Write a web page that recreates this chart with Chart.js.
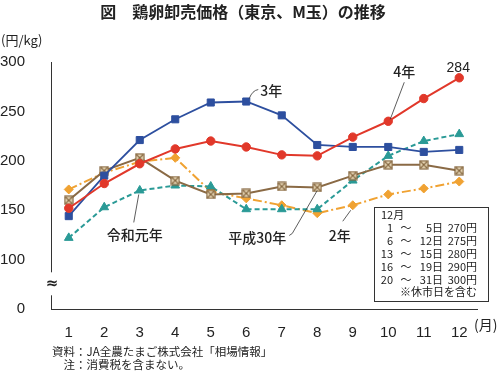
<!DOCTYPE html>
<html>
<head>
<meta charset="utf-8">
<script src="https://cdn.jsdelivr.net/npm/chart.js@4"></script>
<style>
  html, body { margin: 0; padding: 0; background: #fff; }
</style>
</head>
<body>
<canvas id="chart" width="500" height="372"></canvas>
<script>
// egg wholesale price, Tokyo M size (yen/kg), by month
const months = ['1', '2', '3', '4', '5', '6', '7', '8', '9', '10', '11', '12']
const r3  = [144, 185, 221, 242, 259, 260, 246, 216, 214, 214, 209, 211]   // 3年
const r4  = [152, 177, 197, 212, 220, 214, 206, 205, 224, 240, 263, 284]   // 4年
const h30 = [160, 190, 203, 180, 166, 167, 174, 173, 185, 196, 196, 190]   // 平成30年
const r1  = [122, 153, 170, 175, 174, 151, 151, 151, 180, 205, 220, 227]   // 令和元年
const r2  = [171, 188, 199, 203, 169, 162, 155, 147, 155, 166, 172, 179]   // 2年
const yTicks = [50, 100, 150, 200, 250, 300]   // 50 is shown as "0" (axis break)

const boxRows = [
  ['1', '5日', '270円'],
  ['6', '12日', '275円'],
  ['13', '15日', '280円'],
  ['16', '19日', '290円'],
  ['20', '31日', '300円']
]

const JP = '"Noto Sans CJK JP", "Noto Sans", sans-serif'
const NUM = '"Liberation Sans", Arial, sans-serif'
const ink = '#222'

// square with an X for the 平成30年 line
function crossBox() {
  const c = document.createElement('canvas')
  c.width = 10; c.height = 10
  const g = c.getContext('2d')
  g.fillStyle = '#ecdcbc'
  g.fillRect(1, 1, 8, 8)
  g.strokeStyle = '#85663f'
  g.lineWidth = 1.2
  g.strokeRect(1, 1, 8, 8)
  g.beginPath()
  g.moveTo(1.5, 1.5); g.lineTo(8.5, 8.5)
  g.moveTo(8.5, 1.5); g.lineTo(1.5, 8.5)
  g.stroke()
  return c
}

const extras = {
  id: 'extras',
  afterDraw(chart) {
    const ctx = chart.ctx
    const x = chart.scales.x, y = chart.scales.y
    const P = (arr, i) => ({ x: x.getPixelForValue(i), y: y.getPixelForValue(arr[i]) })
    ctx.save()

    // axis break
    const bx = chart.chartArea.left
    const by = y.getPixelForValue(75)
    ctx.fillStyle = '#fff'
    ctx.fillRect(bx - 4, by - 12, 8, 23)
    ctx.fillStyle = ink
    ctx.font = 'bold 15px "DejaVu Sans", sans-serif'
    ctx.textAlign = 'center'
    ctx.textBaseline = 'middle'
    ctx.fillText('≈', bx + 1, by)

    // title and unit labels
    ctx.font = 'bold 16px ' + JP
    ctx.fillText('図　鶏卵卸売価格（東京、M玉）の推移', 243, 12)
    ctx.font = '13px ' + JP
    ctx.textAlign = 'left'
    ctx.fillText('(円/kg)', 1, 40)
    ctx.font = '14px ' + JP
    ctx.fillText('(月)', 474, 325)

    // series labels with leader lines
    ctx.strokeStyle = '#333'
    ctx.lineWidth = 0.8
    ctx.font = '500 14px ' + JP
    let p = P(r3, 5)
    ctx.beginPath()
    ctx.moveTo(p.x + 3, p.y - 3)
    ctx.quadraticCurveTo(p.x + 6, p.y - 11, p.x + 12, p.y - 12)
    ctx.stroke()
    ctx.textAlign = 'left'
    ctx.fillText('3年', p.x + 14, p.y - 11)

    p = P(r4, 9)
    ctx.beginPath()
    ctx.moveTo(p.x + 2, p.y - 2)
    ctx.lineTo(p.x + 16, p.y - 39)
    ctx.stroke()
    ctx.textAlign = 'center'
    ctx.fillText('4年', p.x + 16, p.y - 50)

    p = P(r4, 11)
    ctx.font = '14px ' + NUM
    ctx.fillText('284', p.x - 1, p.y - 10)
    ctx.font = '500 14px ' + JP

    p = P(r1, 2)
    ctx.beginPath()
    ctx.moveTo(p.x - 1, p.y + 4)
    ctx.lineTo(p.x - 6, p.y + 32)
    ctx.stroke()
    ctx.fillText('令和元年', p.x - 5, p.y + 44)

    p = P(h30, 7)
    ctx.beginPath()
    ctx.moveTo(p.x, p.y + 3)
    ctx.lineTo(p.x - 25, p.y + 46)
    ctx.lineTo(p.x - 28, p.y + 48)
    ctx.stroke()
    ctx.fillText('平成30年', p.x - 60, p.y + 50)

    p = P(r2, 8)
    ctx.beginPath()
    ctx.moveTo(p.x - 2, p.y + 5)
    ctx.lineTo(p.x - 10, p.y + 16)
    ctx.stroke()
    ctx.fillText('2年', p.x - 13, p.y + 30)

    // December price box
    ctx.fillStyle = '#fff'
    ctx.fillRect(374, 207, 115, 95)
    ctx.strokeStyle = '#333'
    ctx.lineWidth = 1
    ctx.strokeRect(374.5, 207.5, 114, 94)
    ctx.fillStyle = ink
    ctx.font = '11px ' + JP
    ctx.textAlign = 'left'
    ctx.fillText('12月', 381, 215)
    boxRows.forEach((r, k) => {
      const ty = 228 + k * 12.9
      ctx.textAlign = 'right'
      ctx.fillText(r[0], 393, ty)
      ctx.textAlign = 'center'
      ctx.fillText('〜', 406, ty)
      ctx.textAlign = 'right'
      ctx.fillText(r[1], 443, ty)
      ctx.fillText(r[2], 477, ty)
    })
    ctx.fillText('※休市日を含む', 477, 292)

    // source notes
    ctx.textAlign = 'left'
    ctx.font = '11.5px ' + JP
    ctx.fillText('資料：JA全農たまご株式会社「相場情報」', 52, 352)
    ctx.fillText('注：消費税を含まない。', 63.5, 365)
    ctx.restore()
  }
}

function line(label, data, color, style, opts) {
  return Object.assign({
    label: label,
    data: data,
    borderColor: color,
    backgroundColor: color,
    pointBackgroundColor: color,
    pointBorderColor: color,
    pointStyle: style,
    pointRadius: 4.5,
    pointHoverRadius: 4.5,
    pointBorderWidth: 1,
    borderWidth: 2,
    tension: 0
  }, opts || {})
}

const config = {
  type: 'line',
  data: {
    labels: months,
    datasets: [
      line('4年', r4, '#e1382a', 'circle', { pointRadius: 4.2 }),
      line('3年', r3, '#2d4f9f', 'rect', { pointRadius: 5, borderWidth: 1.8 }),
      line('平成30年', h30, '#8a6a45', crossBox()),
      line('令和元年', r1, '#2a9a96', 'triangle', { borderDash: [5, 3], pointRadius: 5 }),
      line('2年', r2, '#f0a232', 'rectRot', { borderDash: [9, 3, 2, 3], pointRadius: 4.5 })
    ]
  },
  options: {
    responsive: false,
    animation: false,
    events: [],
    layout: { padding: { left: 0, right: 23, top: 62, bottom: 33 } },
    plugins: {
      legend: { display: false },
      tooltip: { enabled: false },
      title: { display: false }
    },
    scales: {
      x: {
        type: 'category',
        offset: true,
        grid: { display: false },
        border: { display: true, color: '#333', width: 1 },
        ticks: { color: ink, padding: 7, font: { family: NUM, size: 15 } },
        afterFit(s) { s.height = 30 }
      },
      y: {
        min: 50,
        max: 300,
        grid: { display: false },
        border: { display: true, color: '#333', width: 1 },
        afterBuildTicks(s) { s.ticks = yTicks.map(v => ({ value: v })) },
        ticks: {
          color: ink,
          padding: 18,
          font: { family: NUM, size: 15 },
          callback: v => (v === 50 ? '0' : v)
        },
        afterFit(s) { s.width = 51 }
      }
    }
  },
  plugins: [extras]
}

const myChart = new Chart(document.getElementById('chart'), config)
</script>
</body>
</html>
